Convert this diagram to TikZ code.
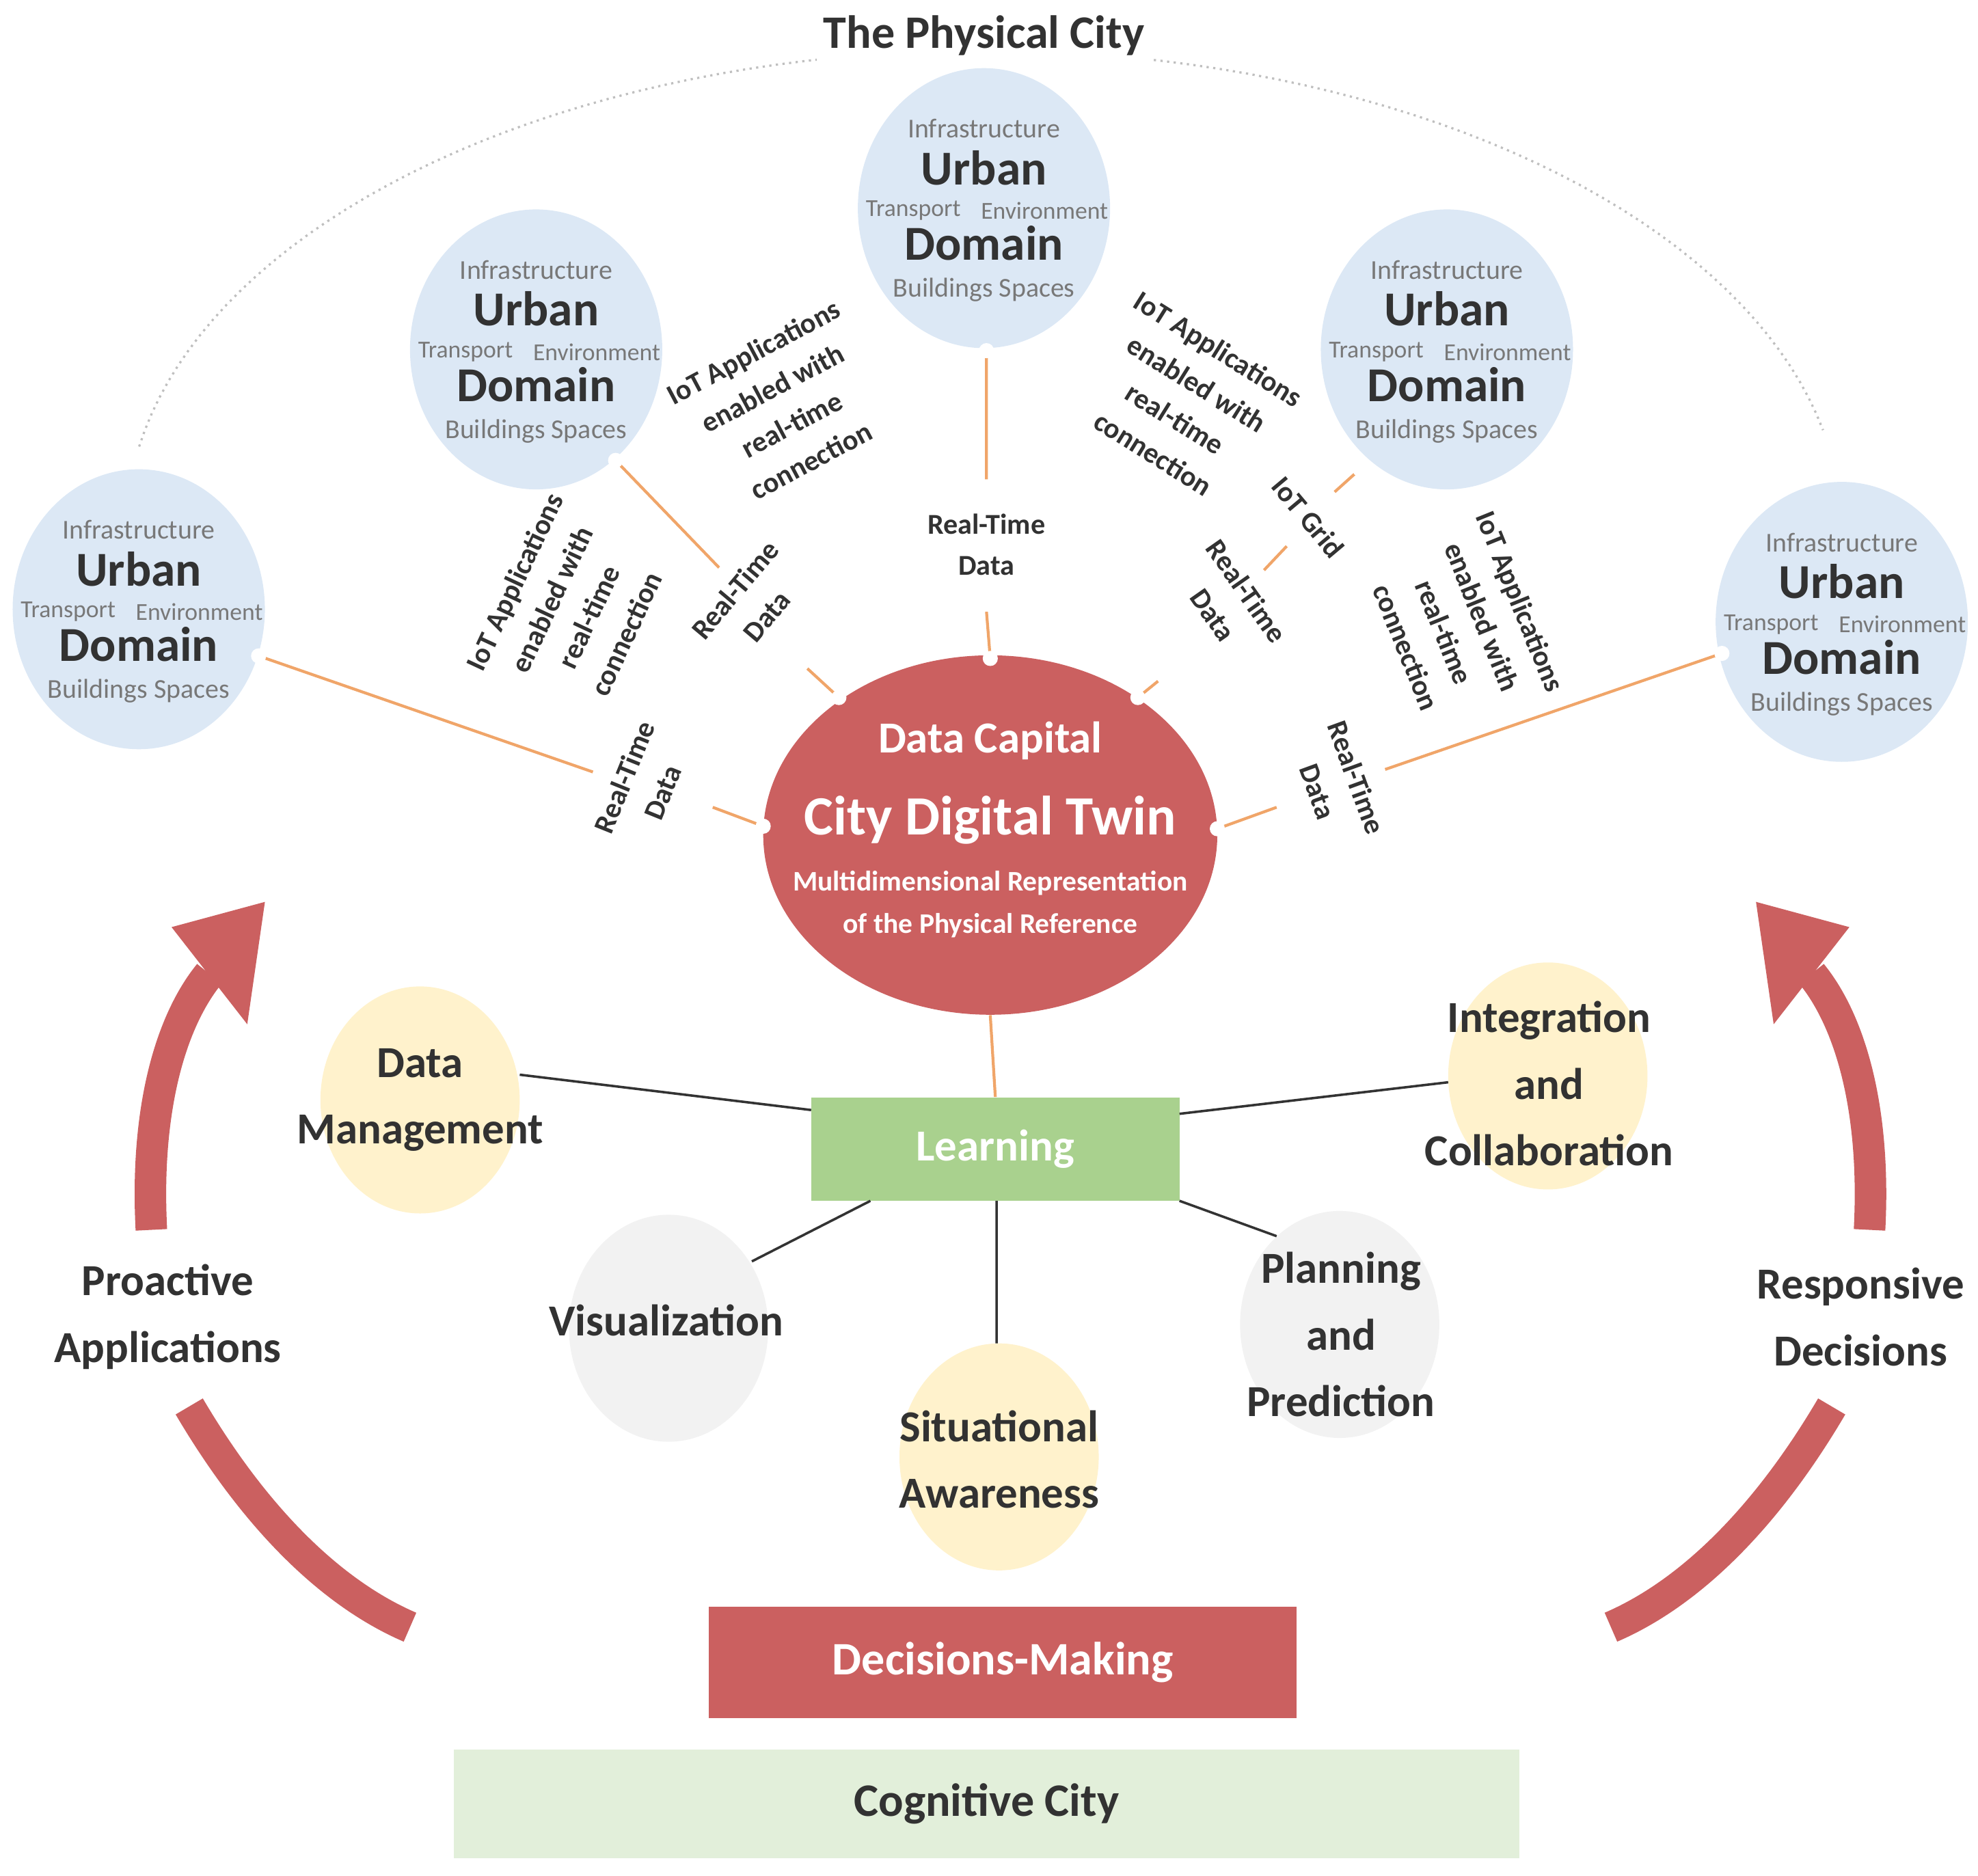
\documentclass[tikz,border=0pt]{standalone}
\usepackage{fontspec}
\setmainfont{Carlito}
\usetikzlibrary{shapes.geometric,calc}
\definecolor{dblue}{RGB}{220,232,245}
\definecolor{dred}{RGB}{203,96,96}
\definecolor{dorange}{RGB}{240,165,105}
\definecolor{dgreen}{RGB}{169,209,142}
\definecolor{pgreen}{RGB}{226,239,218}
\definecolor{dyellow}{RGB}{255,242,204}
\definecolor{dgray}{RGB}{242,242,242}
\definecolor{txt}{RGB}{50,50,50}
\definecolor{gtxt}{RGB}{120,120,120}
\tikzset{
  fs/.style={font=\fontsize{#1}{#1}\selectfont},
  dom/.style={ellipse,fill=dblue,minimum width=4cm,minimum height=4.44cm,inner sep=0},
  big/.style={font=\fontsize{22}{22}\selectfont\bfseries,text=txt,inner sep=0},
  sm/.style={font=\fontsize{12.3}{12.3}\selectfont,text=gtxt,inner sep=0},
  tiny/.style={font=\fontsize{11}{11}\selectfont,text=gtxt,inner sep=0},
  lab/.style={font=\fontsize{13}{18.5}\selectfont\bfseries,text=txt,align=center,inner sep=0},
  con/.style={draw=dorange,line width=1.3pt},
  dot/.style={circle,fill=white,minimum size=0.24cm,inner sep=0},
  blk/.style={draw=black!80,line width=1.1pt},
  bub/.style={ellipse,minimum width=3.16cm,minimum height=3.6cm,inner sep=0},
  btx/.style={font=\fontsize{20}{30}\selectfont\bfseries,text=txt,align=center,inner sep=0},
  rarc/.style={draw=dred,line width=0.5cm},
}
\newcommand\udom[2]{%
  \node[dom] (#1) at (#2) {};
  \node[sm] at ($(#1)+(0,-63)$) {Infrastructure};
  \node[big] at ($(#1)+(0,-32)$) {Urban};
  \node[tiny] at ($(#1)+(-56,2)$) {Transport};
  \node[tiny] at ($(#1)+(48,2)$) {Environment};
  \node[big] at ($(#1)+(0,28)$) {Domain};
  \node[sm] at ($(#1)+(0,65)$) {Buildings Spaces};
}
\begin{document}
\begin{tikzpicture}[x=0.02cm,y=-0.02cm]
\useasboundingbox (0,0) rectangle (1568,1487);
% physical city arc
\draw[gray!50,dotted,line width=1pt] plot[domain=190:348,samples=80] ({780+680*cos(\x)},{420+380*sin(\x)});
\node[fs=21,font=\fontsize{21}{21}\selectfont\bfseries,text=txt,fill=white,inner sep=3pt] (title) at (780,28) {The Physical City};
% domains
\udom{c1}{110,483}
\udom{c2}{425,277}
\udom{c3}{780,165}
\udom{c4}{1147,277}
\udom{c5}{1460,493}
% center
\node[ellipse,fill=dred,minimum width=7.2cm,minimum height=5.7cm,inner sep=0] (dt) at (785,662) {};
\node[font=\fontsize{20}{20}\selectfont\bfseries,text=white] at (785,587) {Data Capital};
\node[font=\fontsize{25}{25}\selectfont\bfseries,text=white] at (785,650) {City Digital Twin};
\node[font=\fontsize{12.8}{19}\selectfont\bfseries,text=white,align=center] at (785,717) {Multidimensional Representation\\of the Physical Reference};
% connectors
\coordinate (a1) at (205,520); \coordinate (a2) at (470,612); \coordinate (a3) at (565,640); \coordinate (a4) at (605,655);
\coordinate (b1) at (488,365); \coordinate (b2) at (570,450); \coordinate (b3) at (640,530); \coordinate (b4) at (665,553);
\coordinate (d1) at (782,278); \coordinate (d2) at (782,380); \coordinate (d3) at (782,485); \coordinate (d4) at (785,522);
\coordinate (e1) at (1078,372); \coordinate (e2) at (1058,390); \coordinate (e3) at (1020,433); \coordinate (e4) at (1002,452); \coordinate (e5) at (918,540); \coordinate (e6) at (902,553);
\coordinate (f1) at (1365,518); \coordinate (f2) at (1098,610); \coordinate (f3) at (1012,640); \coordinate (f4) at (965,657);
\draw[con] (a1)--(a2) (a3)--(a4) (b1)--(b2) (b3)--(b4) (d1)--(d2) (d3)--(d4)
  (e1)--(e2) (e3)--(e4) (e5)--(e6) (f1)--(f2) (f3)--(f4);
\foreach \p in {a1,a4,b1,b4,d1,d4,e1,e6,f1,f4} \node[dot] at (\p) {};
% labels
\node[lab,rotate=68] at (510,622) {Real-Time\\Data};
\node[lab,rotate=50] at (595,478) {Real-Time\\Data};
\node[lab] at (782,432) {Real-Time\\Data};
\node[lab,rotate=-55] at (975,478) {Real-Time\\Data};
\node[lab,rotate=-70] at (1060,622) {Real-Time\\Data};
\node[lab,rotate=-50] at (1037,410) {IoT Grid};
\node[lab,rotate=65] at (452,482) {IoT Applications\\enabled with\\real-time\\connection};
\node[lab,rotate=28] at (620,322) {IoT Applications\\enabled with\\real-time\\connection};
\node[lab,rotate=-32] at (940,318) {IoT Applications\\enabled with\\real-time\\connection};
\node[lab,rotate=-68] at (1160,495) {IoT Applications\\enabled with\\real-time\\connection};
% learning
\node[fill=dgreen,minimum width=5.84cm,minimum height=1.64cm,inner sep=0,font=\fontsize{20}{20}\selectfont\bfseries,text=white] (learn) at (789,911) {Learning};
\draw[con] (dt.south) -- (learn.north);
% bubbles
\node[bub,fill=dyellow] (dm) at (333,872) {};
\node[btx] at (333,872) {Data\\Management};
\node[bub,fill=dyellow] (ic) at (1227,853) {};
\node[btx] at (1228,859) {Integration\\and\\Collaboration};
\node[bub,fill=dgray] (vi) at (530,1053) {};
\node[btx] at (528,1047) {Visualization};
\node[bub,fill=dyellow] (sa) at (792,1155) {};
\node[btx] at (792,1157) {Situational\\Awareness};
\node[bub,fill=dgray] (pp) at (1062,1050) {};
\node[btx] at (1063,1058) {Planning\\and\\Prediction};
\coordinate (m1) at (412,852); \coordinate (m2) at (643,880);
\coordinate (n1) at (1148,858); \coordinate (n2) at (935,883);
\coordinate (v1) at (596,1000); \coordinate (v2) at (690,952);
\coordinate (s1) at (790,952); \coordinate (s2) at (790,1065);
\coordinate (p1) at (935,952); \coordinate (p2) at (1012,980);
\draw[blk] (m1)--(m2) (n1)--(n2) (v1)--(v2) (s1)--(s2) (p1)--(p2);
% red arcs
\draw[rarc] (120,975) .. controls (115,880) and (135,810) .. (166,772);
\fill[dred] (210,715) -- (136,735) -- (196,812) -- cycle;
\draw[rarc] (150,1115) .. controls (200,1200) and (260,1262) .. (325,1290);
\draw[rarc] (1482,975) .. controls (1487,880) and (1467,810) .. (1436,772);
\fill[dred] (1392,715) -- (1466,735) -- (1406,812) -- cycle;
\draw[rarc] (1452,1115) .. controls (1402,1200) and (1342,1262) .. (1277,1290);
\node[btx] at (133,1044) {Proactive\\Applications};
\node[btx] at (1475,1044) {Responsive\\Decisions};
% bottom boxes
\node[fill=dred,minimum width=9.32cm,minimum height=1.76cm,inner sep=0,font=\fontsize{21}{21}\selectfont\bfseries,text=white] (dmk) at (795,1318) {Decisions-Making};
\node[fill=pgreen,minimum width=16.9cm,minimum height=1.72cm,inner sep=0,font=\fontsize{21}{21}\selectfont\bfseries,text=txt] (cog) at (782,1430) {Cognitive City};
\end{tikzpicture}
\end{document}
